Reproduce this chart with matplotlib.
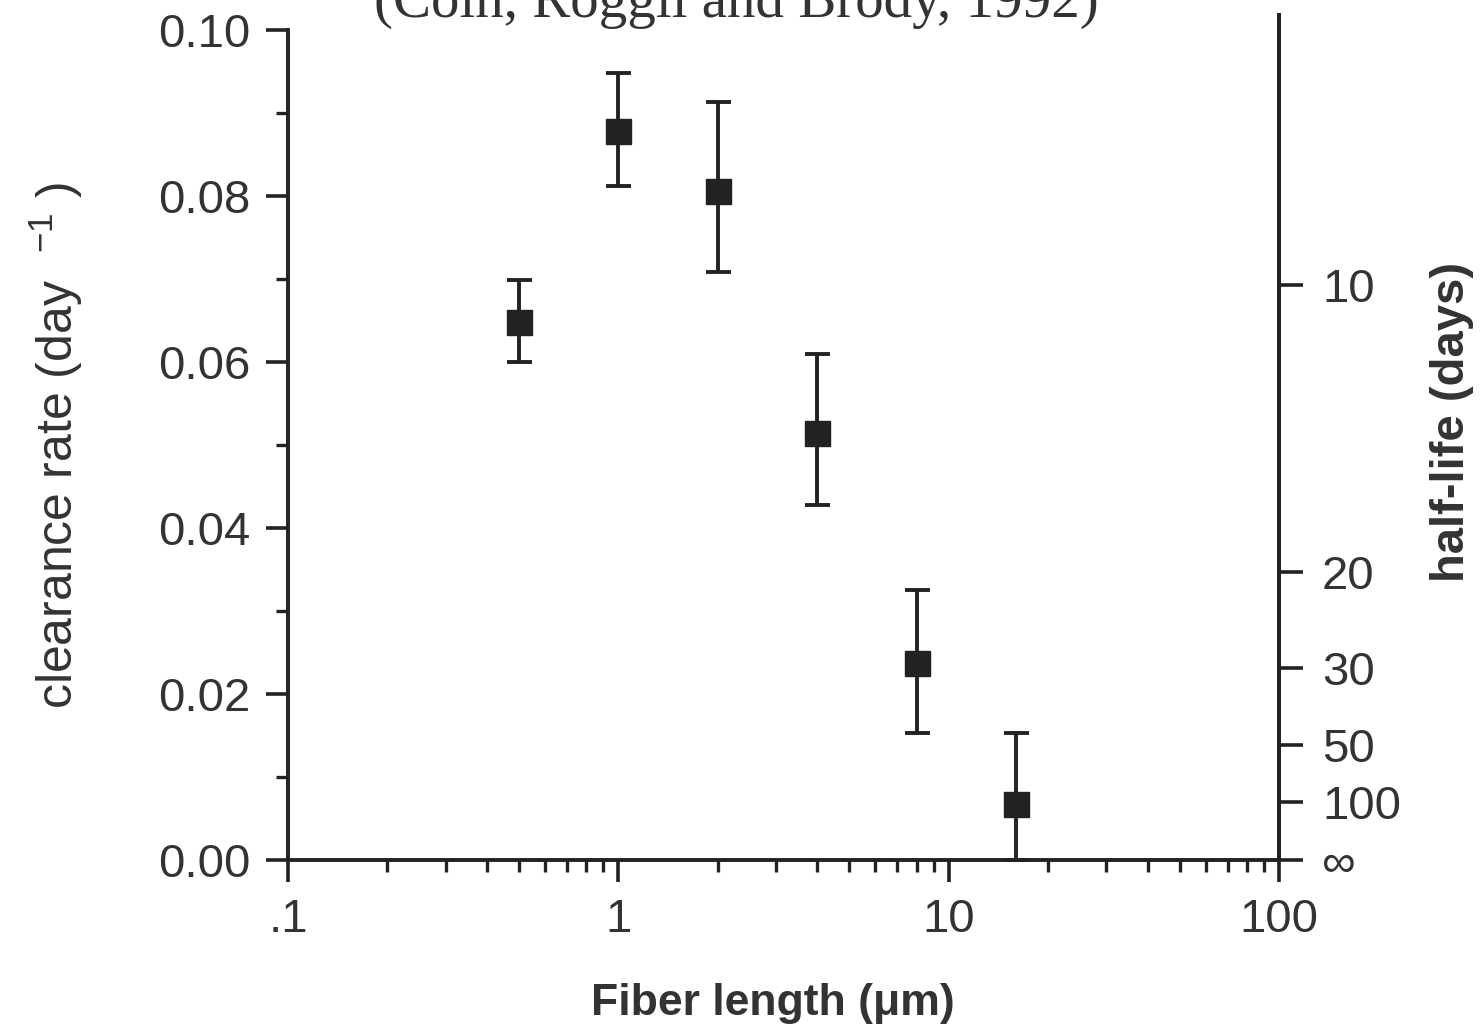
import numpy as np
import matplotlib

matplotlib.use("Agg")
import matplotlib.pyplot as plt
from matplotlib.ticker import FixedLocator, FuncFormatter, LogLocator, NullFormatter

# fiber length (um) and clearance rate (1/day) with error bar limits
fiber_length = [0.5, 1, 2, 4, 8, 16]
clearance = [0.0648, 0.0878, 0.0806, 0.0514, 0.0237, 0.0067]
upper = [0.0699, 0.0948, 0.0913, 0.0610, 0.0325, 0.0153]
lower = [0.0600, 0.0812, 0.0708, 0.0428, 0.0153, 0.0000]

half_life_days = [10, 20, 30, 50, 100]
half_life_labels = ["10", "20", "30", "50", "100", "\u221e"]
x_tick_labels = {0.1: ".1", 1: "1", 10: "10", 100: "100"}

ink = "#222222"
txt = "#333333"
plt.rcParams["font.family"] = ["Liberation Sans", "DejaVu Sans"]
plt.rcParams["mathtext.default"] = "regular"

fig = plt.figure(figsize=(14.82, 10.27), dpi=100)
ax = fig.add_axes([0.1943, 0.1626, 0.6687, 0.8228])

y = np.array(clearance)
yerr = [y - np.array(lower), np.array(upper) - y]
ax.errorbar(fiber_length, y, yerr=yerr, fmt="s", color=ink, ms=18,
            elinewidth=2.8, capsize=9, capthick=2.8, clip_on=False, zorder=3)

ax.set_xscale("log")
ax.set_xlim(0.1, 100)
ax.set_ylim(0, 0.1 * 845 / 830)

ax.spines["top"].set_visible(False)
ax.spines["left"].set_bounds(0, 0.1)
for s in ("left", "bottom", "right"):
    ax.spines[s].set_linewidth(2.8)
    ax.spines[s].set_color(ink)

ax.xaxis.set_major_locator(FixedLocator(list(x_tick_labels)))
ax.xaxis.set_major_formatter(FuncFormatter(lambda v, p: x_tick_labels.get(round(v, 1) if v < 1 else round(v), "")))
ax.xaxis.set_minor_locator(LogLocator(base=10, subs=np.arange(2, 10)))
ax.xaxis.set_minor_formatter(NullFormatter())

ax.yaxis.set_major_locator(FixedLocator(np.arange(0, 0.101, 0.02)))
ax.yaxis.set_minor_locator(FixedLocator(np.arange(0.01, 0.1, 0.02)))
ax.yaxis.set_major_formatter(FuncFormatter(lambda v, p: f"{v:.2f}"))

ax.tick_params(which="major", length=16, width=2.6, color=ink, labelsize=34,
               labelcolor=txt, pad=11)
ax.tick_params(which="minor", length=8.5, width=2.4, color=ink)
ax.tick_params(axis="y", right=False, which="both")

# right axis: half-life = ln2 / rate
ax2 = ax.twinx()
ax2.set_ylim(ax.get_ylim())
rates = [np.log(2) / t for t in half_life_days] + [0.0]
ax2.yaxis.set_major_locator(FixedLocator(rates))
ax2.set_yticklabels(half_life_labels)
ax2.tick_params(axis="y", length=17, width=2.6, color=ink, labelsize=34,
                labelcolor=txt, pad=14)
for s in ("top", "left", "bottom"):
    ax2.spines[s].set_visible(False)
ax2.spines["right"].set_linewidth(2.8)
ax2.spines["right"].set_color(ink)

ax.set_xlabel("Fiber length (\u03bcm)", fontsize=32, fontweight="bold", color=txt)
ax.xaxis.set_label_coords(0.489, -0.145)
ax.set_ylabel("clearance rate (day  $^{-1}$ )", fontsize=36, color=txt)
ax.yaxis.set_label_coords(-0.205, 0.49)
ax2.set_ylabel("half-life (days)", fontsize=34, fontweight="bold", color=txt)
ax2.yaxis.set_label_coords(1.152, 0.518)

# the source scan cuts the title off at the top edge
fig.text(0.497, 1 - 17 / 1027, "(Coin, Roggli and Brody, 1992)", fontsize=41,
         family=["Liberation Serif", "DejaVu Serif"], ha="center", va="baseline",
         color=txt)

fig.savefig("out.png", dpi=100)
